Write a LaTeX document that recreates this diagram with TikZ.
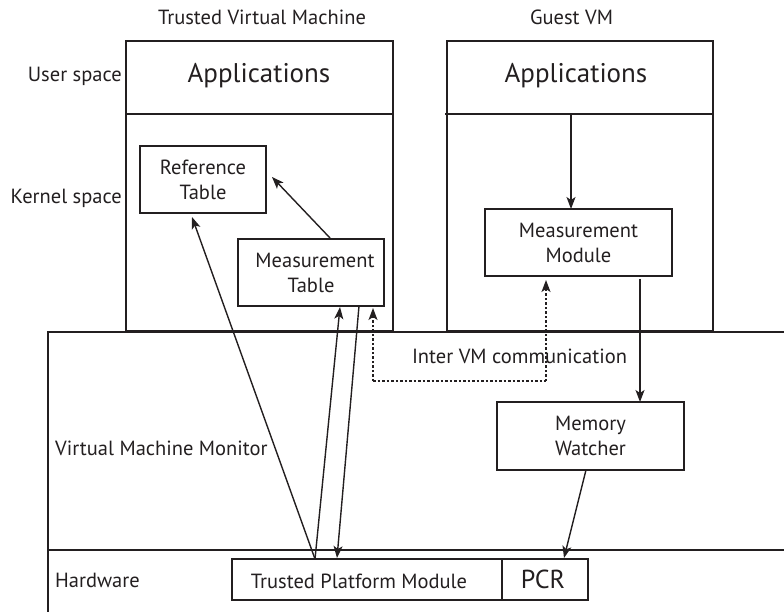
\documentclass[tikz,border=0pt]{standalone}
\usepackage{fontspec}
\setmainfont{PT Sans}
\usetikzlibrary{arrows.meta}
\definecolor{ink}{HTML}{231F20}
\begin{document}
\begin{tikzpicture}[x=1pt,y=-1pt, color=ink,
  box/.style={draw, line width=1.6pt, inner sep=0pt, align=center, font=\fontsize{20.5}{25}\selectfont},
  lbl/.style={inner sep=0pt, font=\fontsize{20.5}{25}\selectfont},
  big/.style={inner sep=0pt, font=\fontsize{27}{30}\selectfont},
  arr/.style={-{Stealth[length=12pt,width=9pt,inset=3pt]}, line width=1.4pt},
  dotline/.style={dash pattern=on 2.5pt off 2pt, line width=1.4pt},
  plain/.style={line width=1.4pt}]
\useasboundingbox (0,0) rectangle (784,612);
% VM containers
\node[draw, line width=1.6pt, minimum width=267pt, minimum height=290pt, inner sep=0pt] (tvm) at (259.5,186) {};
\node[draw, line width=1.6pt, minimum width=266pt, minimum height=290pt, inner sep=0pt] (gvm) at (580,186) {};
\coordinate (tvmdl) at (126,114); \coordinate (tvmdr) at (393,114);
\coordinate (gvmdl) at (445,114); \coordinate (gvmdr) at (713,114);
\draw[plain] (tvmdl) -- (tvmdr);
\draw[plain] (gvmdl) -- (gvmdr);
% VMM and hardware
\coordinate (vbl) at (48,612); \coordinate (vtl) at (48,332); \coordinate (vtr) at (784,332);
\coordinate (hl) at (48,550); \coordinate (hr) at (784,550);
\draw[line width=2pt] (vbl) -- (vtl) -- (vtr);
\draw[line width=1.5pt] (hl) -- (hr);
% titles and labels
\node[lbl, anchor=base] (t1) at (262,25) {Trusted Virtual Machine};
\node[lbl, anchor=base] (t2) at (571.5,25) {Guest VM};
\node[lbl, anchor=base east] (us) at (122,82) {User space};
\node[lbl, anchor=base east] (ks) at (122,204) {Kernel space};
\node[lbl, anchor=base west] (vmm) at (55,455) {Virtual Machine Monitor};
\node[lbl, anchor=base west] (hw) at (55,587) {Hardware};
\node[lbl, anchor=base] (ivc) at (519.5,363) {Inter VM communication};
\node[big, anchor=base] (app1) at (259,83) {Applications};
\node[big, anchor=base] (app2) at (576,83) {Applications};
% inner boxes
\node[box, minimum width=126pt, minimum height=67pt] (rt) at (203,179.5) {Reference\\Table};
\node[box, minimum width=146pt, minimum height=67pt] (mt) at (311,272.5) {\hspace*{8pt}Measurement\\Table};
\node[box, minimum width=187pt, minimum height=67pt] (mm) at (578.5,242.5) {Measurement\\Module};
\node[box, minimum width=187pt, minimum height=68pt] (mw) at (590.5,436) {Memory\\Watcher};
\node[box, minimum width=270pt, minimum height=41pt] (tpm) at (367,579.5) {};
\node[lbl, anchor=base] (tpmt) at (359,588) {Trusted Platform Module};
\node[box, minimum width=86pt, minimum height=41pt] (pcr) at (545,579.5) {};
\node[inner sep=0pt, font=\fontsize{26}{28}\selectfont, anchor=base] (pcrt) at (543,588) {PCR};
% connector points
\coordinate (mtA) at (330,238); \coordinate (rtE) at (272,177);
\coordinate (tpA) at (315,559); \coordinate (rtS) at (192,217);
\coordinate (mtS1) at (340,307);
\coordinate (mtS2) at (359,306); \coordinate (tpB) at (337,558);
\coordinate (mtS3) at (373,308); \coordinate (dc1) at (373,381);
\coordinate (dc2) at (546,381); \coordinate (mmS) at (546,280);
\coordinate (apB) at (571,114); \coordinate (mmN) at (571,209);
\coordinate (mmS2) at (640,279); \coordinate (mwN) at (640,402);
\coordinate (mwS) at (586,470); \coordinate (pcrN) at (564,558);
% connectors
\draw[arr] (mtA) -- (rtE);
\draw[arr] (tpA) -- (rtS);
\draw[arr] (tpA) -- (mtS1);
\draw[arr] (mtS2) -- (tpB);
\draw[dotline, -{Stealth[length=12pt,width=9pt,inset=3pt]}] (dc1) -- (mtS3);
\draw[dotline] (dc1) -- (dc2);
\draw[dotline, -{Stealth[length=12pt,width=9pt,inset=3pt]}] (dc2) -- (mmS);
\draw[arr] (apB) -- (mmN);
\draw[arr] (mmS2) -- (mwN);
\draw[arr] (mwS) -- (pcrN);
\end{tikzpicture}
\end{document}
